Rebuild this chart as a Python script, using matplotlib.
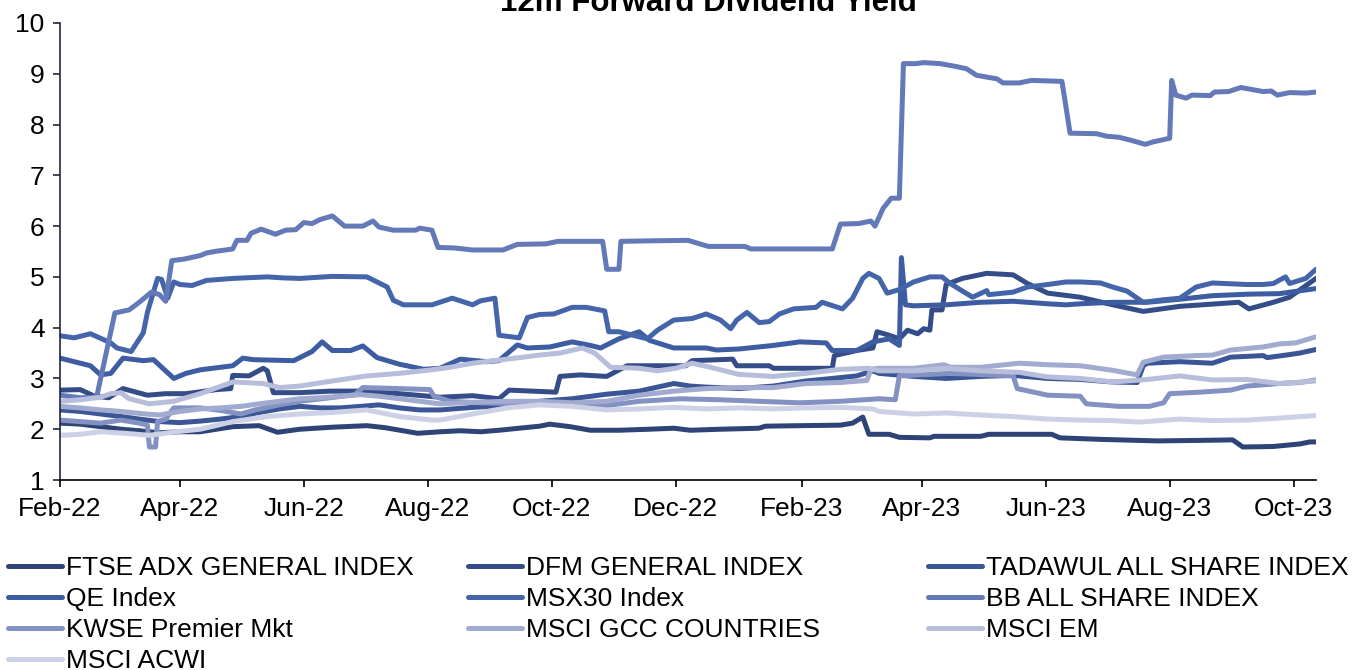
#!/usr/bin/env python3
"""12m forward dividend yield chart for GCC indices vs MSCI benchmarks."""

import matplotlib
matplotlib.use("Agg")
import matplotlib.pyplot as plt
import matplotlib.dates as mdates
import pandas as pd

plt.rcParams['font.family'] = ['Liberation Sans', 'DejaVu Sans']

# x values are days since START
START = pd.Timestamp("2022-02-01")
LAST_DAY = 618

adx_days = [0, 10, 20, 30, 39, 49, 59, 69, 85, 98, 107, 118, 134, 151, 160, 176, 187, 197, 207, 216,
            226, 236, 241, 251, 261, 275, 290, 302, 310, 325, 344, 347, 364, 384, 390, 395, 398, 408,
            413, 428, 430, 453, 457, 488, 492, 512, 540, 561, 577, 582, 597, 610, 615, 618]
adx_vals = [2.12, 2.10, 2.05, 2.00, 1.97, 1.93, 1.95, 1.95, 2.05, 2.07, 1.94, 2.00, 2.04, 2.07, 2.03, 1.92,
            1.95, 1.97, 1.95, 1.98, 2.02, 2.06, 2.10, 2.05, 1.98, 1.98, 2.00, 2.02, 1.98, 2.00, 2.02, 2.06,
            2.07, 2.08, 2.12, 2.24, 1.90, 1.90, 1.84, 1.83, 1.86, 1.86, 1.90, 1.90, 1.83, 1.80, 1.77, 1.78,
            1.79, 1.65, 1.66, 1.71, 1.75, 1.75]

dfm_days = [0, 10, 17, 24, 31, 43, 52, 62, 77, 84, 85, 93, 100, 102, 105, 118, 133, 148, 167, 187,
            203, 216, 221, 244, 246, 256, 269, 279, 308, 311, 331, 333, 349, 351, 380, 381, 392, 400,
            402, 408, 413, 417, 422, 425, 428, 429, 434, 436, 444, 456, 469, 476, 486, 502, 518, 533,
            551, 580, 585, 597, 605, 618]
dfm_vals = [2.77, 2.78, 2.65, 2.62, 2.80, 2.67, 2.70, 2.70, 2.78, 2.80, 3.06, 3.05, 3.20, 3.15, 2.72, 2.72,
            2.75, 2.75, 2.70, 2.63, 2.66, 2.60, 2.77, 2.73, 3.04, 3.07, 3.04, 3.25, 3.25, 3.35, 3.38, 3.25,
            3.25, 3.20, 3.20, 3.45, 3.55, 3.60, 3.92, 3.85, 3.78, 3.95, 3.88, 3.98, 3.95, 4.35, 4.35, 4.85,
            4.97, 5.07, 5.04, 4.87, 4.68, 4.60, 4.45, 4.32, 4.42, 4.50, 4.37, 4.50, 4.60, 4.97]

tadawul_days = [0, 10, 20, 30, 39, 49, 59, 69, 79, 89, 98, 108, 118, 128, 138, 148, 157, 167, 177, 187,
                203, 220, 236, 252, 269, 285, 302, 310, 318, 334, 351, 367, 380, 392, 400, 403, 420, 436,
                453, 469, 486, 502, 518, 530, 533, 535, 551, 567, 576, 592, 594, 605, 610, 618]
tadawul_vals = [2.38, 2.35, 2.30, 2.25, 2.20, 2.15, 2.13, 2.16, 2.20, 2.25, 2.33, 2.40, 2.45, 2.42, 2.42,
                2.45, 2.48, 2.42, 2.38, 2.38, 2.43, 2.47, 2.55, 2.60, 2.69, 2.75, 2.90, 2.85, 2.83, 2.80,
                2.85, 2.95, 3.00, 3.05, 3.15, 3.10, 3.04, 3.00, 3.04, 3.06, 3.00, 2.98, 2.93, 2.92, 3.25,
                3.30, 3.33, 3.30, 3.42, 3.45, 3.41, 3.47, 3.50, 3.57]

qe_days = [0, 10, 15, 20, 25, 31, 41, 46, 56, 62, 69, 85, 90, 95, 115, 124, 129, 134, 143, 149, 156,
           167, 179, 187, 197, 210, 216, 225, 230, 241, 252, 261, 266, 275, 285, 290, 302, 318, 323, 334,
           351, 364, 377, 380, 392, 400, 408, 413, 414, 416, 420, 436, 453, 469, 486, 495, 502, 518, 535,
           551, 567, 585, 600, 618]
qe_vals = [3.40, 3.30, 3.25, 3.07, 3.10, 3.40, 3.35, 3.37, 3.00, 3.10, 3.17, 3.25, 3.40, 3.37, 3.35, 3.53,
           3.72, 3.55, 3.55, 3.64, 3.41, 3.28, 3.18, 3.20, 3.38, 3.33, 3.35, 3.66, 3.60, 3.62, 3.72, 3.65,
           3.60, 3.78, 3.92, 3.75, 3.60, 3.60, 3.56, 3.58, 3.65, 3.72, 3.70, 3.55, 3.55, 3.72, 3.78, 3.65,
           5.38, 4.45, 4.43, 4.45, 4.50, 4.52, 4.47, 4.45, 4.47, 4.50, 4.50, 4.56, 4.63, 4.66, 4.67, 4.77]

msx_days = [0, 7, 15, 25, 28, 35, 41, 43, 48, 50, 53, 56, 59, 65, 72, 85, 102, 110, 118, 134, 151, 156,
            161, 164, 169, 183, 193, 203, 207, 214, 216, 226, 230, 236, 243, 252, 259, 268, 270, 275, 282,
            289, 294, 302, 311, 318, 325, 330, 333, 338, 344, 349, 354, 361, 372, 375, 385, 390, 395, 398,
            403, 407, 413, 420, 428, 434, 438, 449, 456, 457, 469, 476, 486, 495, 502, 512, 518, 525, 533,
            543, 551, 559, 567, 584, 592, 597, 603, 605, 613, 618]
msx_vals = [3.84, 3.80, 3.88, 3.70, 3.60, 3.53, 3.90, 4.30, 4.97, 4.95, 4.58, 4.90, 4.85, 4.83, 4.93, 4.97,
            5.00, 4.98, 4.97, 5.01, 5.00, 4.90, 4.80, 4.54, 4.45, 4.45, 4.58, 4.45, 4.53, 4.58, 3.85, 3.80,
            4.20, 4.26, 4.27, 4.40, 4.40, 4.33, 3.92, 3.92, 3.85, 3.78, 3.95, 4.15, 4.18, 4.27, 4.15, 3.98,
            4.15, 4.30, 4.10, 4.12, 4.27, 4.37, 4.40, 4.50, 4.37, 4.58, 4.97, 5.07, 4.97, 4.68, 4.75, 4.90,
            5.00, 5.00, 4.87, 4.60, 4.73, 4.65, 4.70, 4.80, 4.85, 4.90, 4.90, 4.88, 4.80, 4.72, 4.50, 4.55,
            4.58, 4.80, 4.88, 4.85, 4.85, 4.87, 5.00, 4.87, 4.97, 5.15]

bb_days = [0, 10, 18, 27, 34, 39, 45, 49, 52, 55, 61, 69, 72, 76, 85, 87, 92, 94, 99, 106, 111, 116, 120,
           124, 128, 134, 140, 149, 154, 157, 164, 175, 177, 183, 186, 194, 203, 218, 225, 239, 245, 267,
           269, 275, 276, 291, 309, 319, 337, 340, 380, 384, 393, 399, 401, 405, 409, 413, 415, 421, 425,
           433, 440, 446, 451, 461, 464, 472, 478, 493, 497, 510, 515, 521, 527, 534, 538, 546, 547, 549,
           554, 557, 566, 568, 575, 581, 592, 596, 599, 605, 613, 618]
bb_vals = [2.67, 2.62, 2.63, 4.29, 4.35, 4.50, 4.70, 4.65, 4.52, 5.32, 5.35, 5.42, 5.47, 5.50, 5.55, 5.72,
           5.72, 5.86, 5.94, 5.84, 5.92, 5.93, 6.07, 6.05, 6.13, 6.20, 6.00, 6.00, 6.10, 5.98, 5.92, 5.92,
           5.96, 5.92, 5.58, 5.57, 5.53, 5.53, 5.64, 5.65, 5.70, 5.70, 5.15, 5.15, 5.70, 5.71, 5.72, 5.60,
           5.60, 5.55, 5.55, 6.04, 6.05, 6.10, 6.00, 6.35, 6.55, 6.55, 9.20, 9.20, 9.22, 9.20, 9.15, 9.10,
           8.97, 8.90, 8.82, 8.82, 8.87, 8.85, 7.83, 7.82, 7.77, 7.75, 7.69, 7.61, 7.66, 7.73, 8.87, 8.58,
           8.52, 8.58, 8.57, 8.64, 8.65, 8.73, 8.65, 8.66, 8.58, 8.63, 8.62, 8.64]

kwse_days = [0, 10, 20, 30, 39, 43, 44, 47, 48, 52, 56, 69, 79, 89, 96, 108, 118, 133, 145, 149, 167,
             182, 184, 192, 207, 226, 246, 266, 285, 305, 325, 344, 364, 384, 403, 411, 413, 438, 469,
             471, 486, 502, 505, 521, 536, 543, 546, 561, 576, 584, 600, 610, 618]
kwse_vals = [2.18, 2.15, 2.12, 2.18, 2.12, 2.08, 1.65, 1.65, 2.15, 2.20, 2.42, 2.42, 2.37, 2.30, 2.38, 2.48,
             2.55, 2.62, 2.68, 2.82, 2.80, 2.78, 2.65, 2.55, 2.52, 2.50, 2.48, 2.45, 2.55, 2.60, 2.58, 2.55,
             2.52, 2.55, 2.60, 2.58, 3.05, 3.10, 3.05, 2.80, 2.67, 2.65, 2.50, 2.45, 2.45, 2.52, 2.70, 2.73,
             2.77, 2.85, 2.90, 2.92, 2.97]

gcc_days = [0, 10, 20, 30, 42, 49, 59, 69, 79, 89, 98, 108, 118, 128, 138, 148, 157, 167, 177, 187, 203,
            220, 236, 252, 269, 285, 302, 318, 334, 351, 367, 384, 397, 399, 403, 420, 435, 438, 453, 472,
            486, 502, 518, 530, 533, 543, 559, 567, 576, 592, 600, 608, 618]
gcc_vals = [2.45, 2.42, 2.38, 2.35, 2.30, 2.28, 2.35, 2.40, 2.42, 2.45, 2.50, 2.55, 2.60, 2.62, 2.65, 2.68,
            2.65, 2.60, 2.55, 2.50, 2.53, 2.55, 2.55, 2.52, 2.55, 2.67, 2.75, 2.80, 2.82, 2.82, 2.90, 2.92,
            2.96, 3.18, 3.20, 3.20, 3.27, 3.22, 3.22, 3.30, 3.27, 3.25, 3.16, 3.07, 3.32, 3.42, 3.45, 3.46,
            3.56, 3.62, 3.68, 3.70, 3.82]

em_days = [0, 10, 20, 25, 30, 34, 44, 56, 69, 85, 100, 108, 118, 134, 151, 167, 183, 192, 203, 220, 236,
           246, 257, 263, 271, 285, 294, 303, 311, 320, 334, 351, 367, 384, 398, 403, 420, 436, 453, 472,
           486, 502, 518, 535, 551, 567, 584, 600, 618]
em_vals = [2.55, 2.58, 2.63, 2.70, 2.72, 2.60, 2.50, 2.55, 2.70, 2.93, 2.90, 2.82, 2.85, 2.95, 3.05, 3.10,
           3.17, 3.22, 3.30, 3.38, 3.46, 3.50, 3.60, 3.50, 3.22, 3.20, 3.15, 3.20, 3.30, 3.22, 3.08, 3.04,
           3.10, 3.18, 3.20, 3.15, 3.15, 3.20, 3.15, 3.12, 3.03, 3.00, 2.93, 2.98, 3.05, 2.97, 2.98, 2.90,
           2.95]

acwi_days = [0, 10, 20, 32, 44, 57, 69, 85, 102, 118, 134, 151, 167, 183, 187, 203, 220, 236, 252, 269,
             285, 302, 318, 334, 351, 367, 384, 400, 403, 420, 436, 453, 469, 486, 502, 518, 531, 551,
             567, 584, 600, 618]
acwi_vals = [1.88, 1.90, 1.95, 1.92, 1.88, 1.95, 2.00, 2.15, 2.25, 2.30, 2.33, 2.38, 2.25, 2.18, 2.18, 2.30,
             2.42, 2.48, 2.45, 2.38, 2.40, 2.43, 2.40, 2.42, 2.40, 2.42, 2.43, 2.40, 2.35, 2.30, 2.32, 2.28,
             2.25, 2.20, 2.18, 2.17, 2.14, 2.20, 2.17, 2.18, 2.22, 2.27]

names = ["FTSE ADX GENERAL INDEX", "DFM GENERAL INDEX", "TADAWUL ALL SHARE INDEX", "QE Index",
         "MSX30 Index", "BB ALL SHARE INDEX", "KWSE Premier Mkt", "MSCI GCC COUNTRIES", "MSCI EM",
         "MSCI ACWI"]
colors = ["#2E4476", "#344D88", "#3B5697", "#3E5CA1", "#4565AA", "#6379B8",
          "#8491C3", "#A1AACF", "#B7BEDB", "#CCD1E6"]
all_days = [adx_days, dfm_days, tadawul_days, qe_days, msx_days, bb_days,
            kwse_days, gcc_days, em_days, acwi_days]
all_vals = [adx_vals, dfm_vals, tadawul_vals, qe_vals, msx_vals, bb_vals,
            kwse_vals, gcc_vals, em_vals, acwi_vals]

W, H = 1361, 670
fig = plt.figure(figsize=(W / 100, H / 100), dpi=100)
ax = fig.add_axes([60 / W, 1 - 480 / H, (1316 - 60) / W, (480 - 23) / H])

handles = []
for name, col, d, v in zip(names, colors, all_days, all_vals):
    x = START + pd.to_timedelta(d, unit="D")
    line, = ax.plot(x, v, color=col, lw=3.6, label=name,
                    solid_joinstyle="round", solid_capstyle="round")
    handles.append(line)

ax.set_xlim(START, START + pd.Timedelta(days=LAST_DAY))
ax.set_ylim(1, 10)
ax.set_yticks(range(1, 11))
ax.xaxis.set_major_locator(mdates.MonthLocator(bymonth=[2, 4, 6, 8, 10, 12]))
ax.xaxis.set_major_formatter(mdates.DateFormatter("%b-%y"))

for s in ["top", "right"]:
    ax.spines[s].set_visible(False)
ax.spines["left"].set_color("#23263F")
ax.spines["bottom"].set_color("black")
ax.spines["left"].set_linewidth(1.2)
ax.spines["bottom"].set_linewidth(1.2)
ax.tick_params(axis="y", direction="out", length=5, width=1.2, color="#23263F", pad=6, labelsize=19)
ax.tick_params(axis="x", direction="out", length=5, width=1.2, color="black", pad=7, labelsize=19)

# the original's title sits partly above the top edge
fig.text(708 / W, 1 - 11 / H, "12m Forward Dividend Yield", ha="center", va="baseline",
         fontsize=22.5, fontweight="bold")

# legend laid out row by row in three fixed columns, like the original
col_x = [8, 468, 928]
for c in range(3):
    hs = handles[c::3]
    fig.legend(handles=hs, labels=[h.get_label() for h in hs],
               loc="upper left", bbox_to_anchor=(col_x[c] / W, 1 - 556 / H),
               frameon=False, fontsize=19, handlelength=2.05, handletextpad=0.15,
               labelspacing=0.27, borderpad=0, borderaxespad=0)

fig.savefig("out.png", dpi=100)
